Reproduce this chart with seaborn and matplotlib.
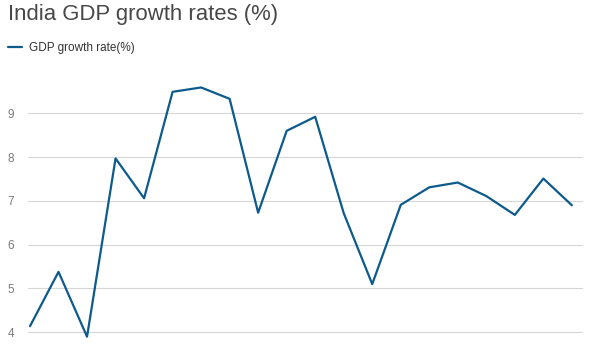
import matplotlib
matplotlib.use("Agg")
import matplotlib.pyplot as plt
import pandas as pd
import seaborn as sns

years = ["2000-01", "2001-02", "2002-03", "2003-04", "2004-05", "2005-06", "2006-07",
         "2007-08", "2008-09", "2009-10", "2010-11", "2011-12", "2012-13", "2013-14",
         "2014-15", "2015-16", "2016-17", "2017-18", "2018-19", "2019-20"]
growth = [4.14, 5.38, 3.90, 7.97, 7.06, 9.49, 9.59, 9.33, 6.73, 8.60,
          8.92, 6.72, 5.10, 6.91, 7.31, 7.42, 7.11, 6.68, 7.51, 6.90]

df = pd.DataFrame({"year": years, "growth": growth, "idx": range(len(years))})

sns.set_style("white")
plt.rcParams["font.family"] = ["Liberation Sans", "DejaVu Sans"]

W, H = 602, 351
fig = plt.figure(figsize=(W / 100, H / 100), dpi=100)
# axes placed in pixel coordinates
left, right = 28, 583
ymin, ymax = 3.8, 10.0
px_per_unit = (332.3 - 113.3) / 5
bottom_px = 332.3 + (4 - ymin) * px_per_unit
top_px = 332.3 - (ymax - 4) * px_per_unit
ax = fig.add_axes([left / W, 1 - bottom_px / H, (right - left) / W, (bottom_px - top_px) / H])

sns.lineplot(data=df, x="idx", y="growth", ax=ax, color="#0d5a8c", linewidth=1.6,
             label="GDP growth rate(%)")

ax.set_ylim(ymin, ymax)
ax.set_xlim(-0.07, 19.39)
ax.set_yticks([4, 5, 6, 7, 8, 9])
ax.set_xticks([])
ax.yaxis.grid(True, color="#d6d6d6", linewidth=0.8)
ax.set_axisbelow(True)
ax.tick_params(axis="y", length=0, pad=10, labelsize=8.5, labelcolor="#7a7a7a")
for s in ax.spines.values():
    s.set_visible(False)
ax.set_xlabel("")
ax.set_ylabel("")

leg = ax.legend(loc="center left", bbox_to_anchor=(8 / W, 1 - 48.5 / H),
                bbox_transform=fig.transFigure,
                frameon=False, fontsize=8.5, handlelength=1.2, handletextpad=0.55,
                borderaxespad=0, borderpad=0)
for t in leg.get_texts():
    t.set_color("#333333")

fig.text(8 / W, 1 - 4 / H, "India GDP growth rates (%)", ha="left", va="top",
         fontsize=15.9, color="#484848")

fig.savefig("out.png", dpi=100)
